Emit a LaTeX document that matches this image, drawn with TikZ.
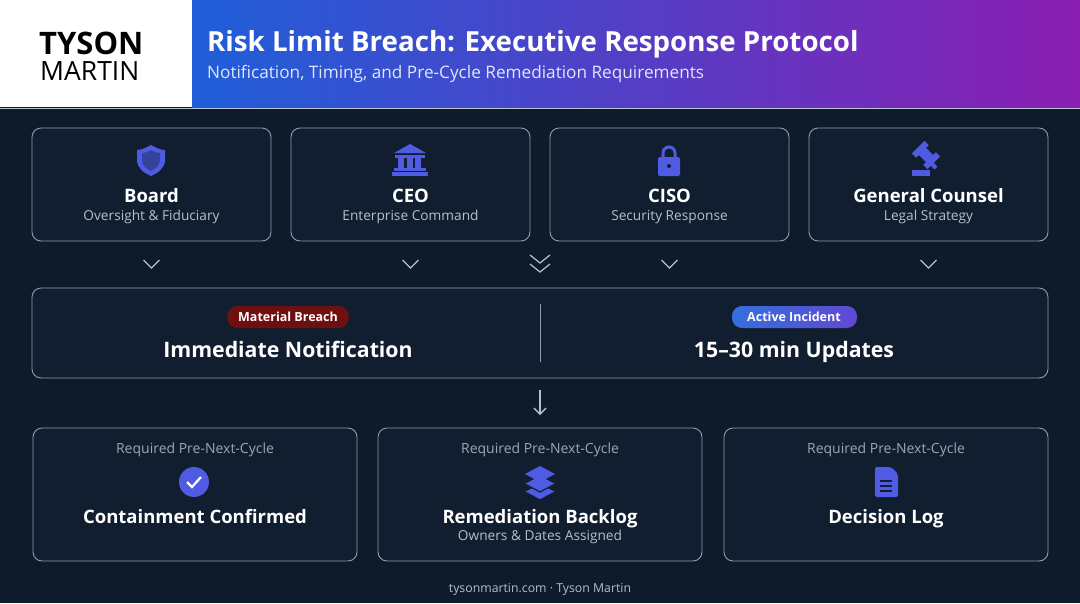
\documentclass[tikz,border=0pt]{standalone}
\usepackage{fontspec}
\setmainfont{Open Sans}
\usetikzlibrary{arrows.meta,shapes.geometric}
\definecolor{bg}{HTML}{0F1B2B}
\definecolor{boxbg}{HTML}{111E30}
\definecolor{edge}{HTML}{8C9CB4}
\definecolor{sub}{HTML}{B4BFCE}
\definecolor{ic}{HTML}{4F5BE3}
\definecolor{gA}{HTML}{1F5ED8}
\definecolor{gB}{HTML}{8A1EB2}
\definecolor{pillred}{HTML}{6E0F12}
\begin{document}
\begin{tikzpicture}[x=1pt,y=-1pt,
 card/.style={draw=edge,line width=0.9pt,rounded corners=9pt,fill=boxbg},
 ttl/.style={text=white,font=\bfseries\fontsize{18.5}{22}\selectfont},
 sb/.style={text=sub,font=\fontsize{13.7}{15}\selectfont},
 chev/.style={draw=sub,line width=1.2pt},
 icon/.style={fill=ic,draw=none}]
\useasboundingbox (0,0) rectangle (1080,603);
\fill[bg] (0,0) rectangle (1080,603);
\fill[white] (0,0) rectangle (192,107);
\shade[left color=gA,right color=gB] (192,0) rectangle (1080,107);
\draw[edge!60] (0,108) -- (1080,108);
\node[anchor=base west,inner sep=0,font=\bfseries\fontsize{31}{33}\selectfont] (l1) at (39,54) {TYSON};
\node[anchor=base west,inner sep=0,font=\fontsize{26.5}{29}\selectfont] (l2) at (40,80) {MARTIN};
\node[anchor=west,inner sep=0,text=white,font=\bfseries\fontsize{27.7}{30}\selectfont] (t) at (207,44) {Risk Limit Breach: Executive Response Protocol};
\node[anchor=west,inner sep=0,text=white!85!gA,font=\fontsize{17.2}{19}\selectfont] (st) at (207,74) {Notification, Timing, and Pre-Cycle Remediation Requirements};
% top cards
\foreach \n/\x/\a/\b in {b/32/Board/Oversight \& Fiduciary,c/291/CEO/Enterprise Command,s/550/CISO/Security Response,g/809/General Counsel/Legal Strategy}{
 \draw[card] (\x,128) rectangle ++(239,113);
 \node[ttl] (\n t) at (\x+119.5,196) {\a};
 \node[sb] (\n s) at (\x+119.5,217) {\b};
 \draw[chev] (\x+111.5,260) -- (\x+119.5,268) -- (\x+127.5,260);
}
% icons
\fill[icon] (151,145) .. controls (144,149) and (140,150) .. (137,150) -- (137,160) .. controls (137,168) and (144,173) .. (151,176) .. controls (158,173) and (165,168) .. (165,160) -- (165,150) .. controls (162,150) and (158,149) .. (151,145) -- cycle;
\fill[boxbg!40!ic] (151,150) .. controls (146,153) and (144,153) .. (142,153) -- (142,160) .. controls (142,166) and (147,169) .. (151,171) .. controls (155,169) and (160,166) .. (160,160) -- (160,153) .. controls (158,153) and (156,153) .. (151,150) -- cycle;
\fill[icon] (410,144) -- (426,153) -- (394,153) -- cycle;
\fill[icon] (395,155) rectangle (425,158);
\foreach \dx in {398,406.5,415}{\fill[icon] (\dx,158) rectangle ++(6,10);}
\fill[icon] (394,168) rectangle (426,171); \fill[icon] (392,172) rectangle (428,176);
\draw[ic,line width=3pt] (663,159) -- (663,153) arc(180:360:6) -- (675,159);
\fill[icon,rounded corners=2pt] (658,157) rectangle (680,176);
\fill[boxbg] (669,166) circle (2);
\fill[icon,rotate around={-45:(926,155)}] (918,150) rectangle (934,160);
\fill[icon,rotate around={-45:(926,155)}] (915,146) rectangle (921,164);
\fill[icon,rotate around={-45:(926,155)}] (931,146) rectangle (937,164);
\draw[ic,line width=4pt] (926,158) -- (936,168);
\fill[icon] (912,170) rectangle (930,176);
% double chevron
\draw[chev] (530,255) -- (540,263) -- (550,255);
\draw[chev] (530,264) -- (540,272) -- (550,264);
% middle
\draw[card] (32,288) rectangle (1048,378);
\draw[edge,line width=1pt] (540,304) -- (540,362);
\node[fill=pillred,rounded corners=10pt,text=white,font=\bfseries\fontsize{12.5}{15}\selectfont,minimum height=22pt,inner xsep=11pt] (p1) at (288,317) {Material Breach};
\shade[left color=gA!90!white,right color=ic!70!gB,rounded corners=10pt] (732,306) rectangle (857,328);
\node[text=white,font=\bfseries\fontsize{12.5}{15}\selectfont] (p2) at (794,317) {Active Incident};
\node[anchor=base,text=white,font=\bfseries\fontsize{21.3}{24}\selectfont] (m1) at (288,357) {Immediate Notification};
\node[anchor=base,text=white,font=\bfseries\fontsize{21.3}{24}\selectfont] (m2) at (794,357) {15–30 min Updates};
\coordinate (a1) at (540,390); \coordinate (a2) at (540,415);
\draw[sub,line width=1.3pt,-{Straight Barb[length=6pt,width=12pt]}] (a1) -- (a2);
% bottom cards
\foreach \n/\x/\a in {x/33/Containment Confirmed,y/378/Remediation Backlog,z/724/Decision Log}{
 \draw[card] (\x,428) rectangle ++(324,133);
 \node[sb,text=sub!85!bg,font=\fontsize{14}{15}\selectfont] (\n r) at (\x+162,450) {Required Pre-Next-Cycle};
 \node[ttl,anchor=base] (\n t) at (\x+162,523) {\a};
}
\node[sb] (ys) at (540,537) {Owners \& Dates Assigned};
\fill[icon] (194,482) circle (15);
\draw[white,line width=2.2pt] (187,482) -- (192,487) -- (201,477);
\foreach \dy in {8,0}{\fill[icon] (540,476+\dy) -- (555,484+\dy) -- (540,492+\dy) -- (525,484+\dy) -- cycle;
 \draw[boxbg,line width=1.2pt] (525,484+\dy) -- (540,492+\dy) -- (555,484+\dy);}
\fill[icon] (540,466) -- (555,474) -- (540,482) -- (525,474) -- cycle;
\fill[icon,rounded corners=2pt] (875,467) -- (891,467) -- (898,474) -- (898,497) -- (875,497) -- cycle;
\foreach \dy in {481,486,491}{\draw[boxbg,line width=1.5pt] (880,\dy) -- (892,\dy);}
\node[text=sub,font=\fontsize{12.3}{15}\selectfont] (f) at (540,589) {tysonmartin.com · Tyson Martin};
\end{tikzpicture}
\end{document}
